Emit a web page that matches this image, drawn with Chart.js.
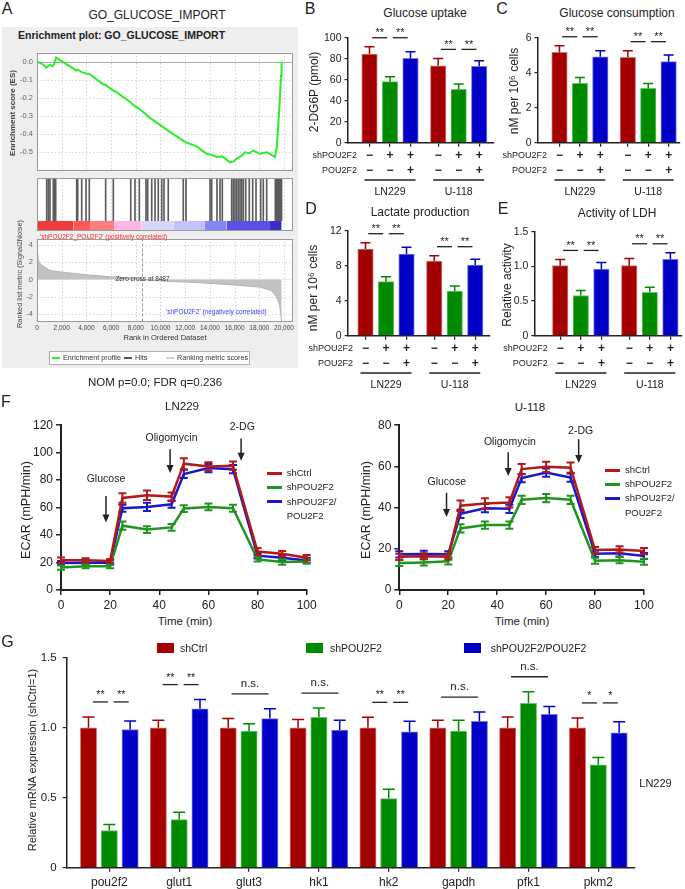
<!DOCTYPE html>
<html lang="en">
<head>
<meta charset="utf-8">
<title>POU2F2 glycolysis figure</title>
<script src="https://cdn.jsdelivr.net/npm/chart.js@4.4.1/dist/chart.umd.min.js"></script>
<style>
  html, body { margin: 0; padding: 0; background: #fff; }
  #fig { position: relative; width: 685px; height: 889px; overflow: hidden;
         font-family: "Liberation Sans", Arial, sans-serif; color: #222; }
  #fig canvas { position: absolute; }
  .lbl { position: absolute; white-space: nowrap; line-height: 1; }
</style>
</head>
<body>
<div id="fig"></div>
<script>
// ---- A: GSEA, GO_GLUCOSE_IMPORT
const esRank = [0, 400, 785, 915, 1050, 1270, 1400, 1540, 3215, 3295, 3620, 3970, 4235, 5370, 5560, 6180, 6450,
  7590, 7800, 8285, 9150, 10500, 11845, 12065, 12930, 13740, 14145, 14550, 15005, 15630, 15900, 16170, 16440,
  16840, 17190, 17520, 18060, 18600, 18870, 19270, 19410, 19480, 19595, 19680, 19760, 19810];
const esScore = [0, -0.012, -0.033, -0.025, -0.017, -0.025, -0.012, 0.022, -0.05, -0.045, -0.058, -0.065, -0.068,
  -0.125, -0.13, -0.16, -0.17, -0.225, -0.24, -0.26, -0.31, -0.375, -0.437, -0.445, -0.467, -0.508, -0.515, -0.525,
  -0.522, -0.555, -0.55, -0.535, -0.525, -0.5, -0.505, -0.49, -0.508, -0.5, -0.51, -0.525, -0.475, -0.41, -0.285,
  -0.19, -0.077, 0];
const hitRank = [785, 915, 1050, 1320, 1400, 1515, 3215, 3295, 3620, 3970, 4235, 5560, 6180, 7590, 7935, 8285,
  8825, 8965, 9290, 9555, 9820, 10100, 10285, 10630, 11845, 12065, 14010, 14145, 14575, 14820, 15005, 15765,
  15895, 16030, 16170, 16300, 16440, 16575, 16705, 16900, 17190, 17465, 17735, 18115, 18325, 18600, 19300,
  19400, 19480, 19550, 19620, 19700, 19760, 19800];
const heatEdges = [0, 2940, 4290, 6235, 8480, 11040, 13600, 15360, 18870, 19810];
const metricRank = [0, 60, 150, 380, 1050, 2400, 4020, 5900, 7800, 8487, 10500, 13200, 15900, 18060, 19000, 19400, 19650, 19810];
const metricValue = [2.9, 2.5, 2.0, 1.65, 1.02, 0.78, 0.53, 0.32, 0.14, 0, -0.21, -0.38, -0.63, -0.88, -1.3, -2.0, -3.0, -4.8];
const zeroCross = 8487;
const rankTicks = [0, 2000, 4000, 6000, 8000, 10000, 12000, 14000, 16000, 18000, 20000];
const esTicks = [0, -0.1, -0.2, -0.3, -0.4, -0.5];
const metricTicks = [4, 2, 0, -2, -4];

// ---- B-E
const cellLines = ['LN229', 'U-118'];
const groups = ['shCtrl', 'shPOU2F2', 'shPOU2F2/POU2F2'];
const shRow = ['\u2212', '+', '+'];
const rescueRow = ['\u2212', '\u2212', '+'];
const uptake = [84.4, 58.1, 80.3, 73.3, 50.8, 72.7];
const uptakeErr = [7.0, 4.8, 6.3, 7.0, 5.0, 5.4];
const uptakeSig = ['**', '**', '**', '**'];
const consumption = [5.16, 3.39, 4.91, 4.88, 3.10, 4.63];
const consumptionErr = [0.38, 0.34, 0.34, 0.38, 0.29, 0.38];
const consumptionSig = ['**', '**', '**', '**'];
const lactate = [9.93, 6.19, 9.36, 8.56, 5.12, 8.10];
const lactateErr = [0.73, 0.57, 0.77, 0.61, 0.57, 0.65];
const lactateSig = ['**', '**', '**', '**'];
const ldh = [1.01, 0.58, 0.96, 1.01, 0.625, 1.10];
const ldhErr = [0.09, 0.072, 0.096, 0.105, 0.072, 0.096];
const ldhSig = ['**', '**', '**', '**'];

// ---- F: ECAR
const timeMin = [0, 10, 20, 25, 35, 45, 50, 60, 70, 80, 90, 100];
const ln229Ctrl = [21.6, 21.6, 21.1, 67, 69, 68, 92, 90, 90.5, 28, 26.4, 23.5];
const ln229CtrlErr = [2, 1.5, 1.5, 3.5, 3.5, 3, 4, 3, 3, 2.5, 2, 2];
const ln229Sh = [16.3, 17.3, 17.3, 46.8, 44, 45.6, 59.3, 60.5, 59.5, 22.3, 20.4, 20.8];
const ln229ShErr = [1.5, 1.5, 1.5, 3, 2.5, 2.5, 2.5, 2.5, 2.5, 1.5, 2, 1.5];
const ln229Res = [19.7, 19.9, 19.9, 59.5, 60.5, 62.4, 84.5, 88.8, 88, 25, 23.5, 21.5];
const ln229ResErr = [1.5, 1.5, 1.5, 2.5, 3, 2.5, 3, 3, 3, 2, 2, 2];
const u118Ctrl = [16.1, 16.4, 16.2, 40.9, 42, 42.5, 58.7, 59.8, 59.4, 19.4, 19.7, 18.9];
const u118CtrlErr = [1.5, 1.5, 1.5, 2.5, 2.5, 2.5, 2.5, 2.5, 2.5, 1.5, 1.5, 1.5];
const u118Sh = [13.1, 13.4, 13.9, 29.9, 31.5, 31.5, 43.8, 44.6, 43.8, 14.2, 14.5, 13.7];
const u118ShErr = [1.5, 1.5, 1.5, 2, 1.8, 1.8, 2, 2, 2, 1.5, 1.5, 1.5];
const u118Res = [17.3, 17.5, 17.3, 37, 39.7, 39.4, 54.3, 57, 54.6, 17.6, 17.8, 16.5];
const u118ResErr = [1.5, 1.5, 1.5, 2, 2, 2, 2, 2, 2, 1.5, 1.5, 1.5];

// ---- G: qPCR, LN229
const genes = ['pou2f2', 'glut1', 'glut3', 'hk1', 'hk2', 'gapdh', 'pfk1', 'pkm2'];
const gCtrl = [1, 1, 1, 1, 1, 1, 1, 1];
const gCtrlErr = [0.078, 0.054, 0.066, 0.06, 0.075, 0.054, 0.078, 0.071];
const gSh = [0.266, 0.344, 0.976, 1.075, 0.494, 0.976, 1.176, 0.736];
const gShErr = [0.042, 0.052, 0.054, 0.066, 0.066, 0.078, 0.082, 0.052];
const gRes = [0.988, 1.136, 1.066, 0.984, 0.972, 1.047, 1.096, 0.965];
const gResErr = [0.061, 0.066, 0.07, 0.07, 0.075, 0.066, 0.056, 0.078];
const gSig = ['**', '**', 'n.s.', 'n.s.', '**', 'n.s.', 'n.s.', '*'];

// colours
const BAR_FILL = ['#a50000', '#008a00', '#0000c8'];
const BAR_EDGE = ['#d07878', '#6cc46c', '#7878e6'];
const LINE_COL = ['#b41818', '#1e961e', '#1818d0'];
const HEAT_COL = ['#f23a3a', '#ff5656', '#ff7d7d', '#ffb6e3', '#d6d6fb', '#c3c1f8', '#8585f3', '#5a50e4', '#3b2cc8'];
const LIME = '#2bef2b';

const fig = document.getElementById('fig');
const FONT = '"Liberation Sans", Arial, sans-serif';
Chart.defaults.font.family = FONT;
Chart.defaults.color = '#222';
Chart.defaults.animation = false;
Chart.defaults.responsive = false;
Chart.defaults.plugins.legend.display = false;
Chart.defaults.plugins.tooltip.enabled = false;

function box(x, y, w, h) { return { x, y, w, h }; }
function area(l, t, r, b) { return { l, t, r, b }; }

function makeCanvas(b) {
  const c = document.createElement('canvas');
  c.width = b.w; c.height = b.h;
  c.style.left = b.x + 'px'; c.style.top = b.y + 'px';
  c.style.width = b.w + 'px'; c.style.height = b.h + 'px';
  fig.appendChild(c);
  return c;
}

// pin the chart area to page coordinates
function fit(b, a) {
  return {
    layout: { autoPadding: false, padding: { left: 0, bottom: 0, top: a.t - b.y, right: b.x + b.w - a.r } },
    yFit: s => { s.width = a.l - b.x; },
    xFit: s => { s.height = b.y + b.h - a.b; }
  };
}

function text(str, x, y, size, o = {}) {
  const d = document.createElement('div');
  d.className = 'lbl';
  d.textContent = str;
  d.style.left = x + 'px';
  d.style.top = y + 'px';
  d.style.fontSize = size + 'px';
  let tf = o.left ? 'translate(0,-50%)' : 'translate(-50%,-50%)';
  if (o.rot) tf += ' rotate(-90deg)';
  d.style.transform = tf;
  if (o.bold) d.style.fontWeight = 'bold';
  if (o.color) d.style.color = o.color;
  fig.appendChild(d);
  return d;
}

function rect(x, y, w, h, css) {
  const d = document.createElement('div');
  d.style.position = 'absolute';
  d.style.left = x + 'px'; d.style.top = y + 'px';
  d.style.width = w + 'px'; d.style.height = h + 'px';
  Object.assign(d.style, css);
  fig.appendChild(d);
  return d;
}

// error bars: bars get the upper arm only, lines get both
const errorBars = {
  id: 'errorBars',
  afterDatasetDraw(chart, args) {
    const ds = chart.data.datasets[args.index];
    if (!ds.errors) return;
    const ys = chart.scales.y, ctx = chart.ctx;
    ctx.save();
    ctx.strokeStyle = ds.errColor;
    ctx.lineWidth = ds.errWidth || 1.5;
    args.meta.data.forEach((el, j) => {
      const v = ds.data[j].y, e = ds.errors[j];
      const top = ys.getPixelForValue(v + e);
      const bot = ds.errBoth ? ys.getPixelForValue(v - e) : el.y;
      const h = ds.capHalf || 5;
      ctx.beginPath();
      ctx.moveTo(el.x, bot); ctx.lineTo(el.x, top);
      ctx.moveTo(el.x - h, top); ctx.lineTo(el.x + h, top);
      if (ds.errBoth) { ctx.moveTo(el.x - h, bot); ctx.lineTo(el.x + h, bot); }
      ctx.stroke();
    });
    ctx.restore();
  }
};

// ---------------- A: GSEA ----------------
const RANK_MAX = 20730;
rect(2, 27, 296, 341, { background: '#eeeeee' });

function gseaPlot(yTicks, extra) {
  return {
    id: 'gseaPlot',
    beforeDatasetsDraw(chart) {
      const { ctx, chartArea: a, scales: { x, y } } = chart;
      ctx.save();
      ctx.fillStyle = '#fff';
      ctx.fillRect(a.left, a.top, a.width, a.height);
      ctx.strokeStyle = '#d4d4d4'; ctx.lineWidth = 1; ctx.setLineDash([1.5, 2]);
      ctx.beginPath();
      rankTicks.forEach(v => {
        const px = Math.round(x.getPixelForValue(v)) + 0.5;
        ctx.moveTo(px, a.top); ctx.lineTo(px, a.bottom);
      });
      yTicks.forEach(v => {
        const py = Math.round(y.getPixelForValue(v)) + 0.5;
        ctx.moveTo(a.left, py); ctx.lineTo(a.right, py);
      });
      ctx.stroke();
      ctx.restore();
      if (extra) extra(chart);
    },
    afterDatasetsDraw(chart) {
      const { ctx, chartArea: a } = chart;
      ctx.save();
      ctx.strokeStyle = '#9a9a9a'; ctx.lineWidth = 1;
      ctx.strokeRect(Math.round(a.left) + 0.5, Math.round(a.top) + 0.5, Math.round(a.width) - 1, Math.round(a.height) - 1);
      ctx.restore();
    }
  };
}

function gseaScales(lay, yMin, yMax, yTicks, showX, showY, yFmt) {
  return {
    x: {
      type: 'linear', min: 0, max: RANK_MAX, offset: false, afterFit: lay.xFit,
      afterBuildTicks: a => { a.ticks = rankTicks.map(v => ({ value: v })); },
      ticks: { display: showX, color: '#444', font: { size: 6.5 }, padding: 3, maxRotation: 0, autoSkip: false,
               callback: v => v.toLocaleString('en-US') },
      grid: { display: false, drawTicks: false, offset: false }, border: { display: false }
    },
    y: {
      min: yMin, max: yMax, afterFit: lay.yFit,
      afterBuildTicks: a => { a.ticks = yTicks.map(v => ({ value: v })); },
      ticks: { display: showY, color: '#666', font: { size: 7.5 }, padding: 4, callback: yFmt },
      grid: { display: false, drawTicks: false }, border: { display: false }
    }
  };
}

// running enrichment score
{
  const b = box(3, 44, 295, 135), a = area(37, 48, 293, 178), lay = fit(b, a);
  new Chart(makeCanvas(b), {
    type: 'line',
    data: { datasets: [{ data: esRank.map((r, i) => ({ x: r, y: esScore[i] })), borderColor: LIME, borderWidth: 2,
                         pointRadius: 0, tension: 0 }] },
    options: {
      devicePixelRatio: 1, layout: lay.layout,
      scales: gseaScales(lay, -0.6, 0.05, esTicks, false, true, v => v.toFixed(1))
    },
    plugins: [gseaPlot(esTicks, chart => {
      const { ctx, chartArea: ca, scales: { y } } = chart;
      const py = Math.round(y.getPixelForValue(0)) + 0.5;
      ctx.save(); ctx.strokeStyle = '#aaaaaa'; ctx.lineWidth = 1;
      ctx.beginPath(); ctx.moveTo(ca.left, py); ctx.lineTo(ca.right, py); ctx.stroke(); ctx.restore();
    })]
  });
}

// hits and ranked-list heat bar
{
  const b = box(3, 177, 295, 55), a = area(37, 178, 293, 231), lay = fit(b, a);
  const HEAT_TOP = 0.19;
  const heat = HEAT_COL.map((c, i) => ({
    type: 'line',
    data: [{ x: heatEdges[i], y: HEAT_TOP }, { x: heatEdges[i + 1], y: HEAT_TOP }],
    fill: 'origin', backgroundColor: c, borderWidth: 0, borderColor: c, pointRadius: 0
  }));
  new Chart(makeCanvas(b), {
    type: 'bar',
    data: {
      datasets: [{
        data: hitRank.map(r => ({ x: r, y: [HEAT_TOP + 0.005, 1] })),
        backgroundColor: '#5c5c5c', barThickness: 1, grouped: false
      }].concat(heat)
    },
    options: {
      devicePixelRatio: 1, layout: lay.layout,
      scales: gseaScales(lay, 0, 1, [], false, false, v => v)
    },
    plugins: [gseaPlot([])]
  });
}

// ranked list metric
{
  const b = box(3, 230, 295, 106), a = area(37, 231, 293, 321), lay = fit(b, a);
  new Chart(makeCanvas(b), {
    type: 'line',
    data: { datasets: [{ data: metricRank.map((r, i) => ({ x: r, y: metricValue[i] })), fill: 'origin',
                         backgroundColor: '#c2c2c2', borderColor: '#b5b5b5', borderWidth: 1, pointRadius: 0, tension: 0 }] },
    options: {
      devicePixelRatio: 1, layout: lay.layout,
      scales: gseaScales(lay, -4.77, 4.7, metricTicks, true, true, v => v)
    },
    plugins: [gseaPlot(metricTicks), {
      id: 'zeroCross',
      afterDatasetsDraw(chart) {
        const { ctx, chartArea: ca, scales: { x, y } } = chart;
        const px = Math.round(x.getPixelForValue(zeroCross)) + 0.5;
        ctx.save();
        ctx.strokeStyle = '#9a9a9a'; ctx.lineWidth = 1; ctx.setLineDash([3, 2]);
        ctx.beginPath(); ctx.moveTo(px, ca.top); ctx.lineTo(px, ca.bottom); ctx.stroke();
        ctx.font = '6.5px ' + FONT; ctx.fillStyle = '#333'; ctx.textAlign = 'center'; ctx.textBaseline = 'middle';
        ctx.fillText('Zero cross at ' + zeroCross, px, y.getPixelForValue(0));
        ctx.restore();
      }
    }]
  });
}

text('A', 7, 9, 16);
text('GO_GLUCOSE_IMPORT', 157, 15, 12);
text('Enrichment plot: GO_GLUCOSE_IMPORT', 18, 35, 10.5, { left: true, bold: true });
text('Enrichment score (ES)', 13, 113, 8, { rot: true, bold: true, color: '#444' });
text('Ranked list metric (Signal2Noise)', 20, 274, 7.3, { rot: true, color: '#444' });
text("'shPOU2F2_POU2F2' (positively correlated)", 40, 237, 6.5, { left: true, color: '#ff2a2a' });
text("'shPOU2F2' (negatively correlated)", 166, 312, 6.5, { left: true, color: '#3c3cff' });
text('Rank in Ordered Dataset', 165, 338, 7.5, { color: '#333' });
rect(49, 350.5, 201, 14, { background: '#fff', border: '1px solid #b0b0b0', boxSizing: 'border-box' });
rect(52, 357, 8, 1.5, { background: LIME });
text('Enrichment profile', 63, 358, 7.2, { left: true, color: '#333' });
rect(124, 357, 8, 1.5, { background: '#555' });
text('Hits', 135, 358, 7.2, { left: true, color: '#333' });
rect(166, 357, 8, 1.5, { background: '#d0d0d0' });
text('Ranking metric scores', 177, 358, 7.2, { left: true, color: '#333' });
text('NOM p=0.0; FDR q=0.236', 155, 383, 11.5);

// ---------------- B-E: bar panels ----------------
const GROUP_GAP = 3.35;
function barX(g, i) { return g * GROUP_GAP + i; }

function sigBE(means, errs, labels) {
  return {
    id: 'sigBE',
    afterDraw(chart) {
      const { ctx, scales: { x, y } } = chart;
      ctx.save();
      ctx.strokeStyle = '#222'; ctx.fillStyle = '#222'; ctx.lineWidth = 1.3;
      ctx.textAlign = 'center'; ctx.font = '11px ' + FONT;
      cellLines.forEach((c, g) => {
        let top = Infinity;
        for (let i = 0; i < 3; i++) top = Math.min(top, y.getPixelForValue(means[g * 3 + i] + errs[g * 3 + i]));
        const ly = top - 9;
        [[0, 1], [1, 2]].forEach(([p, q], k) => {
          const cx = (x.getPixelForValue(barX(g, p)) + x.getPixelForValue(barX(g, q))) / 2;
          ctx.beginPath(); ctx.moveTo(cx - 7.5, ly); ctx.lineTo(cx + 7.5, ly); ctx.stroke();
          ctx.fillText(labels[g * 2 + k], cx, ly - 1.5);
        });
      });
      ctx.restore();
    }
  };
}

const condTable = {
  id: 'condTable',
  afterDraw(chart) {
    const { ctx, scales: { x }, chartArea: a } = chart;
    ctx.save();
    ctx.fillStyle = '#222'; ctx.strokeStyle = '#222'; ctx.textBaseline = 'middle';
    const rows = [{ name: 'shPOU2F2', signs: shRow, dy: 13.3 }, { name: 'POU2F2', signs: rescueRow, dy: 28 }];
    const x0 = x.getPixelForValue(barX(0, 0));
    rows.forEach(r => {
      ctx.font = '9px ' + FONT; ctx.textAlign = 'right';
      ctx.fillText(r.name, x0 - 12.5, a.bottom + r.dy);
      ctx.font = 'bold 12px ' + FONT; ctx.textAlign = 'center';
      cellLines.forEach((c, g) => r.signs.forEach((s, i) => ctx.fillText(s, x.getPixelForValue(barX(g, i)), a.bottom + r.dy)));
    });
    cellLines.forEach((c, g) => {
      const l = x.getPixelForValue(barX(g, 0)) - 5, r = x.getPixelForValue(barX(g, 2)) + 5;
      ctx.lineWidth = 1.3;
      ctx.beginPath(); ctx.moveTo(l, a.bottom + 37.3); ctx.lineTo(r, a.bottom + 37.3); ctx.stroke();
      ctx.font = '10.5px ' + FONT; ctx.textAlign = 'center';
      ctx.fillText(c, (l + r) / 2, a.bottom + 49);
    });
    ctx.restore();
  }
};

function barPanel(b, a, cfg) {
  const lay = fit(b, a);
  const datasets = groups.map((name, i) => ({
    label: name,
    data: cellLines.map((c, g) => ({ x: barX(g, i), y: cfg.means[g * 3 + i] })),
    errors: cellLines.map((c, g) => cfg.errs[g * 3 + i]),
    backgroundColor: BAR_FILL[i], borderColor: BAR_EDGE[i], errColor: BAR_FILL[i], capHalf: 5,
    borderWidth: 1, barThickness: 15.5, grouped: false
  }));
  new Chart(makeCanvas(b), {
    type: 'bar',
    data: { datasets },
    options: {
      devicePixelRatio: 1, layout: lay.layout,
      scales: {
        x: {
          type: 'linear', min: cfg.xMin, max: cfg.xMax, offset: false, afterFit: lay.xFit,
          afterBuildTicks: s => { s.ticks = [0, 1, 2, 3, 4, 5].map(k => ({ value: barX(Math.floor(k / 3), k % 3) })); },
          ticks: { display: false },
          grid: { offset: false, drawOnChartArea: false, tickLength: 4, color: '#222', lineWidth: 1.2 },
          border: { color: '#222', width: 1.5 }
        },
        y: {
          min: 0, max: cfg.yMax, afterFit: lay.yFit,
          ticks: { stepSize: cfg.yStep, padding: 3, color: '#222', font: { size: 10.5 }, callback: cfg.fmt || (v => v) },
          grid: { drawOnChartArea: false, tickLength: 3, color: '#222', lineWidth: 1.2 },
          border: { color: '#222', width: 1.5 }
        }
      }
    },
    plugins: [errorBars, sigBE(cfg.means, cfg.errs, cfg.sig), condTable]
  });
}

barPanel(box(300, 22, 196, 180), area(347.5, 37.7, 494, 142.7),
  { means: uptake, errs: uptakeErr, sig: uptakeSig, yMax: 100, yStep: 20, xMin: -1.073, xMax: 6.073 });
barPanel(box(496, 22, 189, 180), area(537.5, 37.7, 680, 142.7),
  { means: consumption, errs: consumptionErr, sig: consumptionSig, yMax: 6, yStep: 2, xMin: -1.078, xMax: 5.907 });
barPanel(box(300, 218, 196, 178), area(347.7, 231, 490, 335.7),
  { means: lactate, errs: lactateErr, sig: lactateSig, yMax: 12, yStep: 4, xMin: -0.868, xMax: 6.07 });
barPanel(box(496, 218, 189, 178), area(534.3, 231.7, 682, 335.7),
  { means: ldh, errs: ldhErr, sig: ldhSig, yMax: 1.5, yStep: 0.5, xMin: -1.257, xMax: 5.913,
    fmt: v => (v === 0 ? '0' : v.toFixed(1)) });

text('B', 310, 9, 16);
text('Glucose uptake', 425, 13, 12);
text('2-DG6P (pmol)', 314, 92, 12, { rot: true });
text('C', 502, 9, 16);
text('Glucose consumption', 617, 13, 12);
text('nM per 10\u2076 cells', 514, 91, 12, { rot: true });
text('D', 311, 209, 16);
text('Lactate production', 420, 212, 12);
text('nM per 10\u2076 cells', 313, 288, 12, { rot: true });
text('E', 503, 209, 16);
text('Activity of LDH', 617, 213, 12);
text('Relative activity', 507, 285, 12, { rot: true });

// ---------------- F: ECAR ----------------
function arrows(list) {
  return {
    id: 'arrows',
    afterDraw(chart) {
      const { ctx, scales: { x, y } } = chart;
      ctx.save();
      ctx.strokeStyle = '#222'; ctx.fillStyle = '#222'; ctx.lineWidth = 1.5;
      ctx.textAlign = 'center'; ctx.textBaseline = 'middle'; ctx.font = '10.5px ' + FONT;
      list.forEach(a => {
        const px = x.getPixelForValue(a.t), y1 = y.getPixelForValue(a.from), y2 = y.getPixelForValue(a.to);
        ctx.beginPath(); ctx.moveTo(px, y1); ctx.lineTo(px, y2 - 6); ctx.stroke();
        ctx.beginPath(); ctx.moveTo(px - 3.5, y2 - 8); ctx.lineTo(px + 3.5, y2 - 8); ctx.lineTo(px, y2); ctx.closePath(); ctx.fill();
        ctx.fillText(a.label, x.getPixelForValue(a.tx), y.getPixelForValue(a.ty));
      });
      ctx.restore();
    }
  };
}

function ecarChart(b, a, yMax, series, errs, notes) {
  const lay = fit(b, a);
  new Chart(makeCanvas(b), {
    type: 'line',
    data: {
      datasets: series.map((vals, i) => ({
        label: groups[i],
        data: timeMin.map((t, j) => ({ x: t, y: vals[j] })),
        errors: errs[i], errBoth: true, errColor: LINE_COL[i], errWidth: 2, capHalf: 4,
        borderColor: LINE_COL[i], borderWidth: 2.5, pointRadius: 0, tension: 0
      }))
    },
    options: {
      devicePixelRatio: 1, layout: lay.layout,
      scales: {
        x: {
          type: 'linear', min: 0, max: 100, afterFit: lay.xFit,
          ticks: { stepSize: 20, padding: 3, color: '#222', font: { size: 12 }, maxRotation: 0 },
          grid: { drawOnChartArea: false, tickLength: 5, color: '#222', lineWidth: 1.5 },
          border: { color: '#222', width: 2 }
        },
        y: {
          min: 0, max: yMax, afterFit: lay.yFit,
          ticks: { stepSize: 20, padding: 3, color: '#222', font: { size: 12 } },
          grid: { drawOnChartArea: false, tickLength: 5, color: '#222', lineWidth: 1.5 },
          border: { color: '#222', width: 2 }
        }
      }
    },
    plugins: [errorBars, arrows(notes)]
  });
}

// dataset order: shCtrl first so it is drawn on top
ecarChart(box(30, 415, 290, 200), area(61, 423.3, 306.7, 590), 120,
  [ln229Ctrl, ln229Sh, ln229Res], [ln229CtrlErr, ln229ShErr, ln229ResErr],
  [{ label: 'Glucose', t: 18.3, from: 68.4, to: 49.2, tx: 18.3, ty: 80.4 },
   { label: 'Oligomycin', t: 44.4, from: 102.5, to: 85.2, tx: 45.0, ty: 110.4 },
   { label: '2-DG', t: 73.3, from: 110.4, to: 94.1, tx: 73.8, ty: 118.8 }]);
ecarChart(box(368, 415, 292, 200), area(399.3, 420.7, 644, 590), 80,
  [u118Ctrl, u118Sh, u118Res], [u118CtrlErr, u118ShErr, u118ResErr],
  [{ label: 'Glucose', t: 19.3, from: 47.2, to: 35.4, tx: 19.4, ty: 52.3 },
   { label: 'Oligomycin', t: 44.5, from: 66.9, to: 55.4, tx: 45.2, ty: 71.7 },
   { label: '2-DG', t: 73.3, from: 73.2, to: 61.7, tx: 74.1, ty: 77.1 }]);

text('F', 6, 402, 16);
text('LN229', 182, 407, 11.5);
text('U-118', 530, 408, 11.5);
text('ECAR (mPH/min)', 26, 510, 12.5, { rot: true });
text('ECAR (mPH/min)', 366, 510, 12.5, { rot: true });
text('Time (min)', 185, 622, 11.5);
text('Time (min)', 522, 622, 11.5);

function ecarKey(x, ys) {
  const names = ['shCtrl', 'shPOU2F2', 'shPOU2F2/'];
  names.forEach((n, i) => {
    rect(x, ys[i] - 1.5, 15, 3, { background: LINE_COL[i] });
    text(n, x + 20, ys[i], 9.5, { left: true });
  });
  text('POU2F2', x + 20, ys[3], 9.5, { left: true });
}
ecarKey(266.7, [473.3, 487.3, 501.7, 515.7]);
ecarKey(605, [470, 484, 498.3, 512.5]);

// ---------------- G: qPCR ----------------
const G_OFF = [-0.298, 0, 0.298];
{
  const b = box(38, 645, 625, 244), a = area(66.7, 655, 635, 867.7), lay = fit(b, a);
  const means = [gCtrl, gSh, gRes], errs = [gCtrlErr, gShErr, gResErr];
  new Chart(makeCanvas(b), {
    type: 'bar',
    data: {
      datasets: groups.map((name, k) => ({
        label: name,
        data: genes.map((g, i) => ({ x: i + G_OFF[k], y: means[k][i] })),
        errors: errs[k], errColor: BAR_FILL[k], capHalf: 6,
        backgroundColor: BAR_FILL[k], borderColor: BAR_EDGE[k], borderWidth: 1,
        barThickness: 16.3, grouped: false
      }))
    },
    options: {
      devicePixelRatio: 1, layout: lay.layout,
      scales: {
        x: {
          type: 'linear', min: -0.61, max: 7.525, offset: false, afterFit: lay.xFit,
          afterBuildTicks: s => { s.ticks = genes.map((g, i) => ({ value: i })); },
          ticks: { padding: 4, color: '#222', font: { size: 12 }, maxRotation: 0, autoSkip: false,
                   callback: v => genes[v] },
          grid: { offset: false, drawOnChartArea: false, tickLength: 4, color: '#222', lineWidth: 1.2 },
          border: { color: '#222', width: 1.5 }
        },
        y: {
          min: 0, max: 1.5, afterFit: lay.yFit,
          ticks: { stepSize: 0.5, padding: 6, color: '#222', font: { size: 11.5 },
                   callback: v => (v === 0 ? '0' : v.toFixed(1)) },
          grid: { drawOnChartArea: false, tickLength: 4, color: '#222', lineWidth: 1.2 },
          border: { color: '#222', width: 1.5 }
        }
      }
    },
    plugins: [errorBars, {
      id: 'gSig',
      afterDraw(chart) {
        const { ctx, scales: { x, y } } = chart;
        ctx.save();
        ctx.strokeStyle = '#222'; ctx.fillStyle = '#222'; ctx.lineWidth = 1.3; ctx.textAlign = 'center';
        genes.forEach((g, i) => {
          const top = Math.min(...[0, 1, 2].map(k => y.getPixelForValue(means[k][i] + errs[k][i])));
          const ly = top - 15;
          if (gSig[i] === 'n.s.') {
            const cx = x.getPixelForValue(i) + 1;
            ctx.beginPath(); ctx.moveTo(cx - 18.5, ly); ctx.lineTo(cx + 18.5, ly); ctx.stroke();
            ctx.font = '11.5px ' + FONT;
            ctx.fillText('n.s.', cx, ly - 7);
          } else {
            ctx.font = '10.5px ' + FONT;
            [[0, 1], [1, 2]].forEach(([p, q]) => {
              const cx = (x.getPixelForValue(i + G_OFF[p]) + x.getPixelForValue(i + G_OFF[q])) / 2 + 1.5;
              ctx.beginPath(); ctx.moveTo(cx - 7.5, ly); ctx.lineTo(cx + 7.5, ly); ctx.stroke();
              ctx.fillText(gSig[i], cx, ly - 4);
            });
          }
        });
        ctx.restore();
      }
    }]
  });
}

text('G', 7.5, 641.5, 16);
text('Relative mRNA expression (shCtrl=1)', 31.7, 760, 11, { rot: true });
text('LN229', 655.5, 782.7, 11);
[[156.7, 180], [306, 330], [464.3, 490.7]].forEach(([bx, tx], k) => {
  rect(bx, 643.3, 17, 10, { background: BAR_FILL[k] });
  text(groups[k], tx, 648.3, 10.5, { left: true });
});
</script>
</body>
</html>
